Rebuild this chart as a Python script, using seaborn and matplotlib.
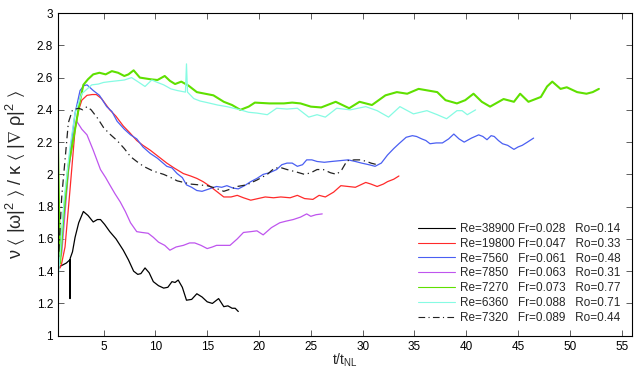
import numpy as np
import pandas as pd
import matplotlib
matplotlib.use("Agg")
import matplotlib.pyplot as plt
import seaborn as sns
from matplotlib.ticker import FuncFormatter, MultipleLocator


# legend labels (Re, Fr, Ro)
LABELS = [
    "Re=38900 Fr=0.028   Ro=0.14",
    "Re=19800 Fr=0.047   Ro=0.33",
    "Re=7560   Fr=0.061   Ro=0.48",
    "Re=7850   Fr=0.063   Ro=0.31",
    "Re=7270   Fr=0.073   Ro=0.77",
    "Re=6360   Fr=0.088   Ro=0.71",
    "Re=7320   Fr=0.089   Ro=0.44",
]

# Re=38900
x_38900 = [0.6, 0.8, 1.1, 1.4, 1.74, 1.76, 1.78, 2.0, 2.25, 2.6, 3.05, 3.5, 4.0, 4.4, 4.7,
           5.1, 5.6, 6.2, 6.9, 7.4, 7.9, 8.3, 8.6, 9.0, 9.4, 9.8, 10.3, 10.8, 11.2, 11.6,
           11.9, 12.2, 12.6, 13.0, 13.5, 14.0, 14.5, 15.0, 15.5, 16.1, 16.6, 17.0, 17.4,
           17.7, 18.0]
y_38900 = [1.41, 1.43, 1.44, 1.45, 1.47, 1.23, 1.48, 1.52, 1.61, 1.70, 1.77, 1.745, 1.705,
           1.72, 1.72, 1.69, 1.645, 1.60, 1.53, 1.47, 1.40, 1.38, 1.385, 1.42, 1.39, 1.335,
           1.31, 1.295, 1.30, 1.335, 1.33, 1.345, 1.30, 1.22, 1.225, 1.26, 1.24, 1.21, 1.20,
           1.23, 1.18, 1.185, 1.17, 1.17, 1.15]

# Re=19800
x_19800 = [0.8, 0.96, 1.28, 1.76, 2.25, 2.6, 2.9, 3.4, 3.9, 4.3, 4.8, 5.6, 6.2, 6.9, 7.5,
           8.2, 8.8, 9.5, 10.3, 11.1, 11.8, 12.7, 13.4, 14.0, 14.6, 15.3, 16.0, 16.6, 17.3,
           17.9, 18.5, 19.2, 19.9, 20.6, 21.4, 22.1, 23.0, 23.7, 24.4, 25.2, 25.8, 26.4,
           27.2, 27.9, 28.6, 29.3, 30.3, 30.8, 31.4, 32.0, 32.4, 33.0, 33.5]
y_19800 = [1.42, 1.45, 1.55, 1.905, 2.28, 2.40, 2.46, 2.49, 2.495, 2.495, 2.47, 2.40, 2.36,
           2.30, 2.26, 2.21, 2.18, 2.15, 2.11, 2.07, 2.04, 2.005, 1.99, 1.975, 1.955, 1.925,
           1.89, 1.86, 1.86, 1.87, 1.855, 1.84, 1.85, 1.86, 1.855, 1.86, 1.855, 1.87, 1.85,
           1.845, 1.87, 1.86, 1.89, 1.93, 1.925, 1.92, 1.95, 1.94, 1.925, 1.94, 1.955,
           1.97, 1.99]

# Re=7560
x_7560 = [0.6, 0.96, 1.6, 2.25, 2.73, 3.1, 3.4, 4.0, 4.6, 5.3, 5.8, 6.3, 7.0, 7.6, 8.2,
          8.8, 9.5, 10.2, 11.1, 11.6, 12.1, 12.6, 13.0, 13.5, 14.0, 14.5, 15.2, 15.9, 16.4,
          16.9, 17.5, 18.0, 18.6, 19.2, 19.8, 20.4, 21.0, 21.7, 22.2, 22.7, 23.2, 23.7,
          24.2, 24.6, 25.1, 25.6, 26.3, 27.0, 27.8, 28.6, 29.3, 29.9, 30.6, 31.2, 31.8,
          32.4, 33.0, 33.5, 34.2, 34.8, 35.2, 35.7, 36.1, 36.5, 37.1, 37.7, 38.3, 38.8,
          39.3, 39.8, 40.5, 41.2, 41.6, 42.0, 42.4, 42.7, 43.1, 43.5, 44.0, 44.6, 45.0,
          45.4, 45.9, 46.5]
y_7560 = [1.45, 1.59, 2.05, 2.38, 2.52, 2.55, 2.555, 2.52, 2.49, 2.42, 2.39, 2.33, 2.28,
          2.245, 2.22, 2.17, 2.13, 2.10, 2.05, 2.04, 2.005, 1.98, 1.935, 1.92, 1.90, 1.895,
          1.91, 1.925, 1.92, 1.93, 1.915, 1.91, 1.93, 1.955, 1.975, 2.00, 2.01, 2.03, 2.06,
          2.07, 2.07, 2.05, 2.06, 2.09, 2.09, 2.08, 2.075, 2.08, 2.085, 2.09, 2.08, 2.07,
          2.06, 2.05, 2.07, 2.12, 2.16, 2.19, 2.23, 2.24, 2.235, 2.22, 2.21, 2.19, 2.195,
          2.195, 2.22, 2.25, 2.22, 2.20, 2.225, 2.245, 2.235, 2.215, 2.24, 2.235, 2.21,
          2.19, 2.18, 2.155, 2.17, 2.18, 2.20, 2.225]

# Re=7850
x_7850 = [0.6, 0.96, 1.6, 2.08, 2.4, 2.9, 3.4, 4.0, 4.7, 5.2, 5.6, 6.1, 6.6, 7.1, 7.6, 8.2,
          8.7, 9.3, 9.8, 10.3, 10.9, 11.4, 12.0, 12.7, 13.3, 13.8, 14.4, 15.0, 15.5, 15.9,
          16.6, 17.2, 17.9, 18.5, 19.2, 19.8, 20.4, 21.2, 22.0, 22.6, 23.3, 24.0, 24.6,
          25.0, 25.5, 26.1]
y_7850 = [1.44, 1.51, 2.01, 2.235, 2.33, 2.28, 2.245, 2.15, 2.03, 1.98, 1.935, 1.88, 1.83,
          1.77, 1.70, 1.645, 1.64, 1.635, 1.61, 1.58, 1.56, 1.53, 1.55, 1.56, 1.575, 1.575,
          1.56, 1.54, 1.55, 1.56, 1.56, 1.56, 1.60, 1.64, 1.645, 1.65, 1.625, 1.67, 1.70,
          1.71, 1.72, 1.735, 1.755, 1.74, 1.75, 1.755]

# Re=7270
x_7270 = [0.6, 0.7, 0.8, 1.1, 1.6, 2.25, 2.7, 3.05, 3.5, 4.0, 4.6, 5.2, 5.8, 6.4, 7.0, 7.4,
          7.9, 8.5, 9.5, 10.2, 10.9, 11.4, 11.9, 12.5, 13.2, 14.0, 14.8, 15.6, 16.6, 17.4,
          18.2, 19.0, 19.6, 21.0, 22.4, 23.2, 24.0, 25.0, 26.0, 27.4, 28.7, 29.7, 30.9,
          32.2, 33.3, 34.3, 35.4, 36.3, 37.2, 38.0, 39.1, 39.9, 40.7, 41.5, 42.3, 43.6,
          44.6, 45.2, 46.0, 47.2, 47.8, 48.3, 49.1, 49.7, 50.7, 51.6, 52.2, 52.8]
y_7270 = [2.17, 1.80, 1.45, 1.72, 2.05, 2.28, 2.45, 2.555, 2.59, 2.62, 2.63, 2.62, 2.64,
          2.63, 2.61, 2.62, 2.645, 2.60, 2.59, 2.585, 2.61, 2.58, 2.56, 2.575, 2.55, 2.51,
          2.50, 2.49, 2.45, 2.43, 2.40, 2.42, 2.445, 2.44, 2.44, 2.445, 2.44, 2.42, 2.415,
          2.45, 2.41, 2.45, 2.43, 2.49, 2.51, 2.50, 2.53, 2.52, 2.51, 2.46, 2.44, 2.46,
          2.50, 2.45, 2.42, 2.467, 2.45, 2.50, 2.45, 2.48, 2.545, 2.575, 2.53, 2.54, 2.51,
          2.50, 2.51, 2.53]

# Re=6360
x_6360 = [0.6, 0.8, 1.2, 1.76, 2.25, 2.9, 3.86, 4.5, 5.0, 5.6, 6.3, 7.0, 7.7, 8.3, 9.0,
          9.65, 10.2, 10.8, 11.5, 12.1, 12.9, 13.0, 13.1, 13.7, 14.3, 15.0, 16.0, 16.9,
          18.2, 19.0, 19.8, 20.8, 21.7, 22.7, 23.7, 24.8, 25.6, 26.4, 27.5, 28.8, 30.3,
          31.4, 32.5, 33.6, 34.9, 36.2, 37.2, 38.1, 39.1, 39.6, 40.1, 40.9]
y_6360 = [1.345, 1.50, 1.85, 2.17, 2.38, 2.50, 2.555, 2.56, 2.57, 2.575, 2.58, 2.585, 2.60,
          2.575, 2.545, 2.585, 2.57, 2.555, 2.53, 2.52, 2.51, 2.685, 2.51, 2.47, 2.455,
          2.445, 2.43, 2.42, 2.40, 2.385, 2.38, 2.37, 2.41, 2.405, 2.41, 2.355, 2.37, 2.355,
          2.41, 2.40, 2.42, 2.395, 2.355, 2.42, 2.375, 2.395, 2.37, 2.345, 2.395, 2.395,
          2.37, 2.40]

# Re=7320
x_7320 = [0.6, 0.96, 1.28, 1.6, 2.0, 2.6, 3.0, 3.4, 3.8, 4.4, 5.0, 5.6, 6.3, 7.0, 7.6, 8.2,
          8.85, 9.8, 10.8, 11.5, 12.1, 13.4, 14.2, 15.0, 15.8, 16.6, 17.3, 17.9, 18.8, 19.8,
          20.8, 21.5, 22.2, 22.7, 23.6, 24.4, 25.0, 25.6, 26.2, 26.9, 27.5, 28.0, 28.5,
          29.2, 29.8, 30.4, 30.8, 31.4]
y_7320 = [1.42, 1.86, 2.09, 2.32, 2.40, 2.41, 2.40, 2.42, 2.40, 2.35, 2.29, 2.25, 2.21, 2.16,
          2.11, 2.08, 2.05, 2.02, 2.00, 1.98, 1.96, 1.94, 1.935, 1.93, 1.915, 1.895, 1.91,
          1.925, 1.935, 1.965, 2.00, 2.04, 2.04, 2.03, 2.015, 2.00, 2.01, 2.03, 2.03, 2.01,
          2.00, 2.03, 2.085, 2.09, 2.09, 2.08, 2.07, 2.06]

series = [
    (x_38900, y_38900, "#000000", 0.9, "-"),
    (x_19800, y_19800, "#ff2a2a", 0.9, "-"),
    (x_7560, y_7560, "#4a5ff2", 0.9, "-"),
    (x_7850, y_7850, "#bf55ee", 0.9, "-"),
    (x_7270, y_7270, "#5fe000", 1.5, "-"),
    (x_6360, y_6360, "#86fbe3", 0.9, "-"),
    (x_7320, y_7320, "#222222", 0.9, (0, (6, 3, 1, 3))),
]


sns.set_style("ticks")
plt.rcParams["font.family"] = ["Liberation Sans", "DejaVu Sans"]
plt.rcParams["mathtext.fontset"] = "custom"
plt.rcParams["mathtext.rm"] = "Liberation Sans"
plt.rcParams["mathtext.it"] = "Liberation Sans:italic"
plt.rcParams["mathtext.default"] = "regular"

fig = plt.figure(figsize=(6.4, 3.8), dpi=100)
ax = fig.add_axes([0.0906, 0.1166, 0.897, 0.849])

for (xs, ys, col, lw, ls), lab in zip(series, LABELS):
    df = pd.DataFrame({"t": xs, "v": ys})
    sns.lineplot(data=df, x="t", y="v", ax=ax, color=col, linewidth=lw,
                 linestyle=ls, sort=False, estimator=None, label=lab)

ax.set_xlim(0.6, 56)
ax.set_ylim(1, 3)
ax.xaxis.set_major_locator(MultipleLocator(5))
ax.yaxis.set_major_locator(MultipleLocator(0.2))
ax.yaxis.set_major_formatter(FuncFormatter(lambda v, p: f"{v:g}"))

for s in ax.spines.values():
    s.set_visible(True)
    s.set_color("black")
    s.set_linewidth(0.8)
ax.tick_params(direction="in", length=4, width=0.6, colors="#444444",
               labelcolor="black", labelsize=8.5, top=True, right=True)

ax.set_xlabel(r"$t/t_{NL}$", fontsize=10, labelpad=-1)
ax.set_ylabel(r"$\nu\ \langle\ |\omega|^2\ \rangle\ /\ \kappa\ \langle\ |\nabla\ \rho|^2\ \rangle$",
              fontsize=13, labelpad=6)

leg = ax.legend(loc="lower right", frameon=False, fontsize=8.5, handlelength=3.1,
                handletextpad=0.4, labelspacing=0.24, borderaxespad=0.6)
for h in leg.get_lines():
    h.set_linewidth(0.8)

fig.savefig("out.png", dpi=100)
